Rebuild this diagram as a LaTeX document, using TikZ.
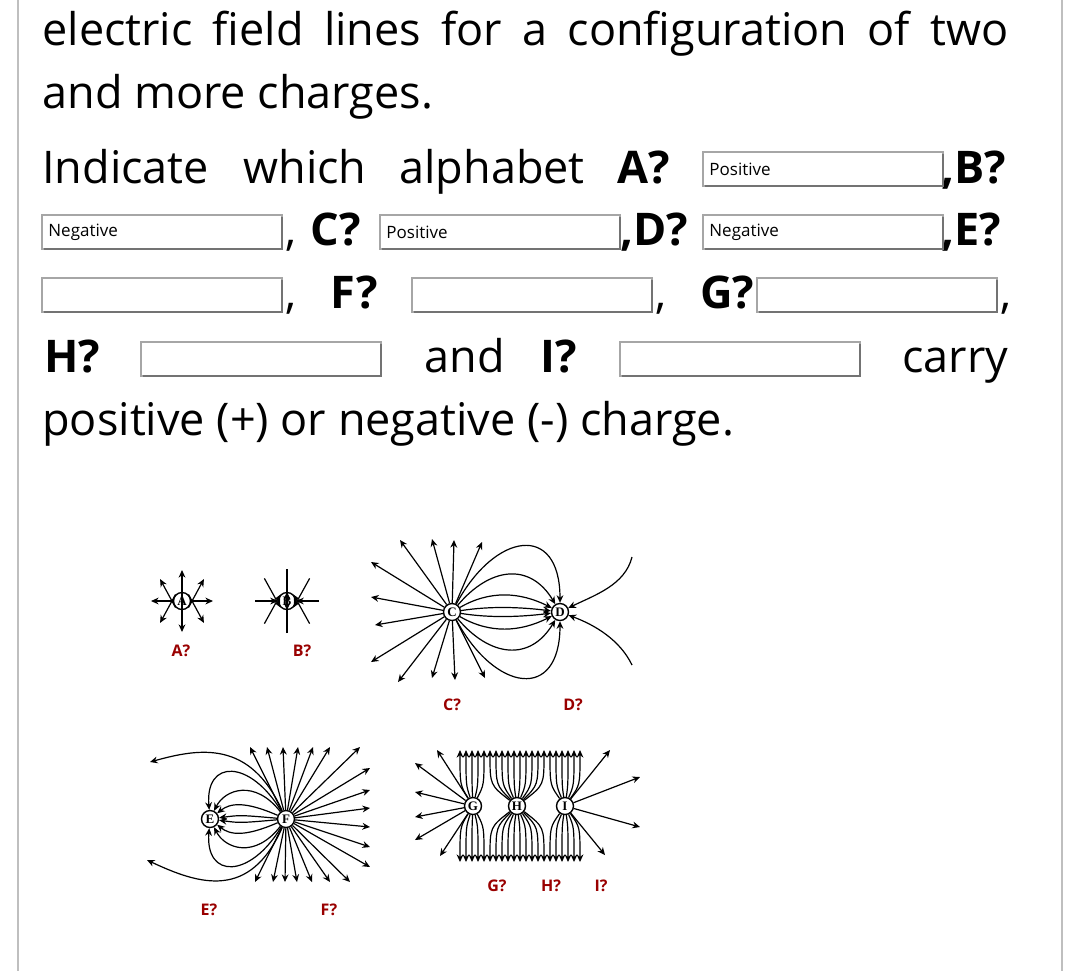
\documentclass[tikz,border=0pt]{standalone}
\usepackage{fontspec}
\setmainfont{Open Sans}
\newfontfamily\chfont{Liberation Serif}
\usetikzlibrary{arrows.meta,calc}
\tikzset{
 tx/.style={anchor=base west,inner sep=0,font=\fontsize{22.5}{26}\selectfont},
 bx/.style={anchor=base west,inner sep=0,font=\fontsize{22.5}{26}\selectfont\bfseries},
 inbox/.style={draw=black!35,line width=0.6pt},
 intext/.style={anchor=west,inner sep=0,font=\fontsize{8.5}{10}\selectfont},
 lab/.style={font=\fontsize{8}{9}\selectfont\bfseries,text=red!60!black,inner sep=0},
 fl/.style={line width=0.6pt,-{Stealth[length=3.8pt,width=3.4pt]}},
 ch/.style={circle,draw,line width=0.7pt,fill=white,inner sep=0,minimum size=8.5pt,font=\fontsize{6.5}{6.5}\chfont\bfseries},
}
\begin{document}
\begin{tikzpicture}[x=0.5pt,y=-0.5pt]
\useasboundingbox (0,0) rectangle (1080,971);
\draw[black!25,line width=1pt] (18,0) -- (18,971) (1062,0) -- (1062,971);
% text
\node[tx] (l1) at (42,45) {\makebox[483pt][s]{electric field lines for a configuration of two}};
\node[tx] (l2) at (42,108) {and more charges.};
\node[tx] (w1) at (42,183) {Indicate};
\node[tx] (w2) at (243,183) {which};
\node[tx] (w3) at (399,183) {alphabet};
\node[bx] (w4) at (617,183) {A?};
\node[bx] (w5) at (941,183) {,B?};
\node[tx] (c1) at (285,245) {,};
\node[bx] (c2) at (310,245) {C?};
\node[bx] (c3) at (620,245) {,D?};
\node[bx] (c4) at (941,245) {,E?};
\node[tx] (d1) at (285,308) {,};
\node[bx] (d2) at (330,308) {F?};
\node[tx] (d3) at (655,308) {,};
\node[bx] (d4) at (700,308) {G?};
\node[tx] (d5) at (1000,308) {,};
\node[bx] (e1) at (44,372) {H?};
\node[tx] (e2) at (424,372) {and};
\node[bx] (e3) at (540,372) {I?};
\node[tx] (e4) at (902,372) {carry};
\node[tx] (l7) at (42,435) {positive (+) or negative (-) charge.};
% input boxes
\foreach \x/\y/\t [count=\i] in {703/152/Positive,42/215/Negative,380/215/Positive,703/215/Negative,42/278/,412/278/,757/278/,141/342/,620/342/}{
 \draw[inbox] (\x,\y) rectangle ++(240,34);
 \draw[black!55,line width=0.8pt] (\x+240,\y+2) -- ++(0,32) -- ++(-238,0);
 \node[intext] (in\i) at (\x+6,\y+17) {\t};
}
% labels
\node[lab] (la) at (181,651) {A?};
\node[lab] (lb) at (302,651) {B?};
\node[lab] (lc) at (452,705) {C?};
\node[lab] (ld) at (573,705) {D?};
\node[lab] (le) at (209,910) {E?};
\node[lab] (lf) at (329,910) {F?};
\node[lab] (lg) at (497,886) {G?};
\node[lab] (lh) at (551,886) {H?};
\node[lab] (li) at (601,886) {I?};
% A and B
\node[ch] (A) at (182,601) {A};
\node[ch] (B) at (287,601) {B};
\foreach \a in {0,45,...,315}{
 \draw[fl] (A.\a) -- ($(A)+(\a:31)$);
 \draw[fl] ($(B)+(\a:32)$) -- (B.\a);
}
% C and D
\node[ch] (C) at (452,612) {C};
\node[ch] (D) at (560,612) {D};
\foreach \p in {(400,540),(432,539),(454,540),(482,542),(371,562),(371,597),(375,625),(371,662),(398,682),(432,678),(455,680),(485,678)}
 \draw[fl] (C) -- \p;
\foreach \s in {1,-1}{
 \draw[fl] (C) .. controls (495,{612-\s*80}) and (560,{612-\s*90}) .. (D);
 \draw[fl] (C) .. controls (490,{612-\s*45}) and (530,{612-\s*50}) .. (D);
 \draw[fl] (C) .. controls (490,{612-\s*22}) and (520,{612-\s*20}) .. (D);
 \draw[fl] (C) .. controls (490,{612-\s*6}) and (520,{612-\s*5}) .. (D);
}
\coordinate (d1) at (632,557);
\coordinate (d2) at (632,665);
\draw[fl] (d1) .. controls (625,585) and (595,595) .. (D);
\draw[fl] (d2) .. controls (620,640) and (595,625) .. (D);
% E and F
\node[ch] (E) at (210,819) {E};
\node[ch] (F) at (286,819) {F};
\foreach \p in {(250,747),(267,747),(283,747),(298,747),(313,747),(330,747),(360,747),(370,768),(370,790),(370,808),(370,827),(370,847),(370,867),(255,882),(273,882),(285,882),(297,882),(312,882),(330,882),(350,882)}
 \draw[fl] (F) -- \p;
\foreach \s in {1,-1}{
 \draw[fl] (F) .. controls (240,{819-\s*4}) .. (E);
 \draw[fl] (F) .. controls (245,{819-\s*18}) and (230,{819-\s*16}) .. (E);
 \draw[fl] (F) .. controls (255,{819-\s*40}) and (225,{819-\s*30}) .. (E);
 \draw[fl] (F) .. controls (250,{819-\s*60}) and (205,{819-\s*60}) .. (E);
}
\coordinate (e1) at (150,762);
\coordinate (e2) at (147,860);
\draw[fl] (F) .. controls (250,740) and (200,748) .. (e1);
\draw[fl] (F) .. controls (250,900) and (200,885) .. (e2);
% G H I
\node[ch] (G) at (473,806) {G};
\node[ch] (H) at (517,806) {H};
\node[ch] (I) at (565,806) {I};
\foreach \p in {(415,763),(415,792),(415,817),(415,840),(437,750),(440,856)}
 \draw[fl] (G) -- \p;
\foreach \p in {(610,750),(640,777),(640,827),(605,855)}
 \draw[fl] (I) -- \p;
\foreach \x in {460,466,...,580}{
 \ifnum\x<486 \def\src{G}\else\ifnum\x<548 \def\src{H}\else\def\src{I}\fi\fi
 \draw[fl] (\src) .. controls (\x,785) .. (\x,750);
 \draw[fl] (\src) .. controls (\x,827) .. (\x,862);
}
\end{tikzpicture}
\end{document}
